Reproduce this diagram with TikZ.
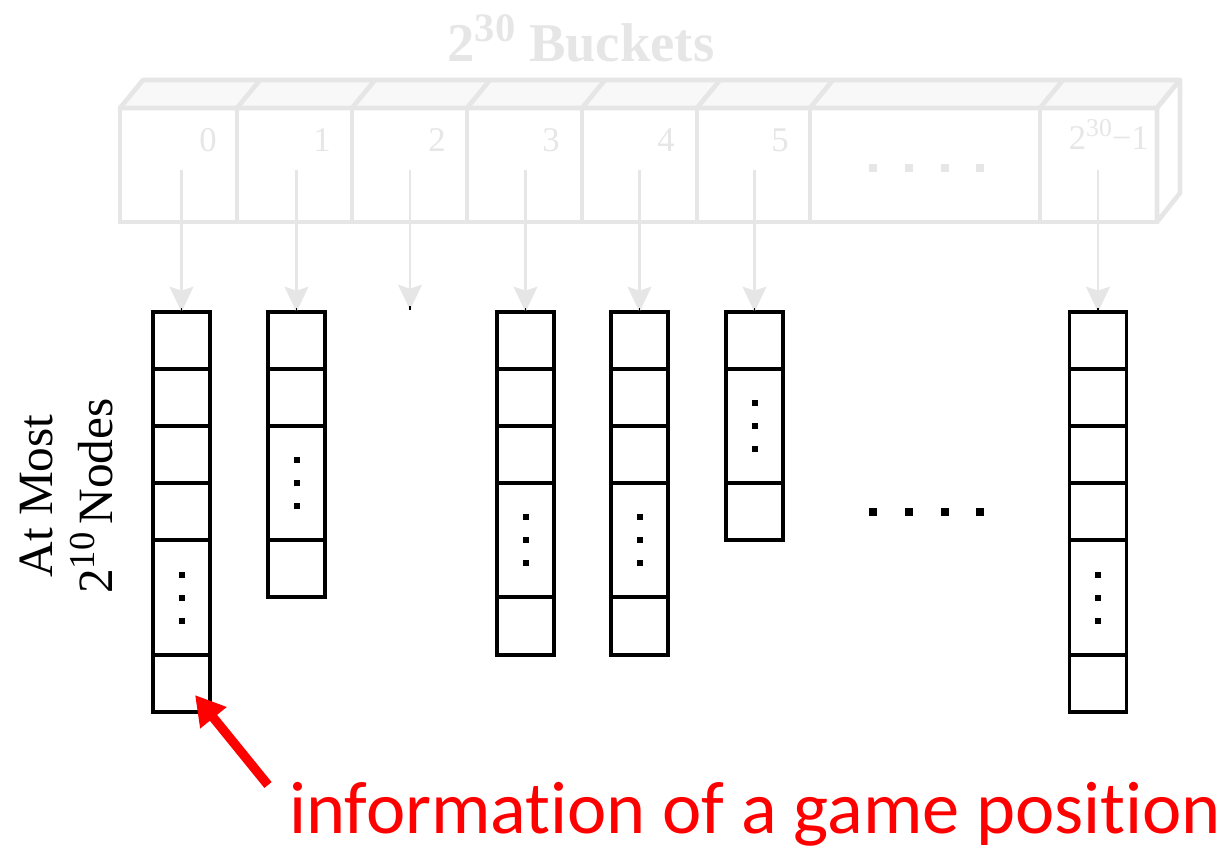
\documentclass[tikz,border=0pt]{standalone}
\usepackage{fontspec}
\setmainfont{Liberation Serif}
\newfontfamily\notefont[Ligatures=NoCommon]{Carlito}
\usetikzlibrary{arrows.meta,calc}
\definecolor{barline}{HTML}{E6E6E6}
\definecolor{bartop}{HTML}{F8F8F8}
\definecolor{notered}{HTML}{FF0000}

% raised, reduced exponent
\newcommand\upnum[1]{\raisebox{0.36em}{\scalebox{0.74}{#1}}}

% a column of node cells: name, centre x, list of top/bottom pairs
\newcommand\nodecolumn[3]{%
  \foreach \t/\b [count=\i] in {#3}
    \node[cellbox, minimum height={(\b-\t)*0.75pt}] (#1-\i) at (#2,{(\t+\b)/2}) {};%
}
% three stacked dots in the middle of a cell
\newcommand\celldots[1]{%
  \foreach \d in {-23,0,23}
    \fill ($(#1.center)+(-3,\d-3)$) rectangle ++(6,6);%
}

\begin{document}
\begin{tikzpicture}[x=0.75pt,y=-0.75pt,
  cellbox/.style={draw=black, line width=2.5pt, minimum width=42.75pt,
    inner sep=0pt, outer sep=0pt},
  bucketbox/.style={draw=barline, line width=3.5pt, minimum height=85.5pt,
    inner sep=0pt, outer sep=0pt},
  bucketnum/.style={text=barline, font=\fontsize{26pt}{30pt}\selectfont,
    inner sep=0pt},
  ptrarrow/.style={draw=barline, line width=1.6pt,
    -{Stealth[width=18pt,length=19pt,inset=3pt]}},
  tipmark/.style={draw=black, line width=1.2pt},
  notearrow/.style={draw=notered, line width=7pt,
    -{Triangle[width=24pt,length=22pt]}}
]
\useasboundingbox (0,0) rectangle (1229,850);

% title
\node[anchor=base, text=barline, inner sep=0pt,
  font=\fontsize{41pt}{48pt}\selectfont\bfseries] (title) at (581,61)
  {2\upnum{30} Buckets};

% top face of the bucket array
\filldraw[fill=bartop, draw=barline, line width=3.5pt, line join=round]
  (120,108) -- (143,80) -- (1180,80) -- (1157,108) -- cycle;
% right face
\filldraw[fill=white, draw=barline, line width=3.5pt, line join=round]
  (1157,108) -- (1180,80) -- (1180,193) -- (1157,222) -- cycle;

% front face: the buckets
\foreach \l/\r/\n in {120/237/b0, 237/352/b1, 352/467/b2, 467/582/b3,
                      582/697/b4, 697/810/b5, 810/1040/bdots, 1040/1157/blast}
  \node[bucketbox, minimum width={(\r-\l)*0.75pt}] (\n) at ({(\l+\r)/2},165) {};

% slanted edges of the top face
\foreach \n in {b1,b2,b3,b4,b5,bdots,blast}
  \draw[barline, line width=3.5pt] (\n.north west) -- ++(23,-28);

% bucket indices
\node[bucketnum] (n0) at (208,140) {0};
\node[bucketnum] (n1) at (322,140) {1};
\node[bucketnum] (n2) at (437,140) {2};
\node[bucketnum] (n3) at (551,140) {3};
\node[bucketnum] (n4) at (666,140) {4};
\node[bucketnum] (n5) at (780,140) {5};
\node[bucketnum, anchor=base east] (nlast) at (1149,149) {2\upnum{30}−1};

% elided buckets
\foreach \x in {873,909,945,980}
  \fill[barline] (\x-4,164) rectangle ++(8,8);

% node lists hanging from the buckets
\nodecolumn{c0}{181.5}{312/369,369/426,426/483,483/540,540/655,655/712}
\nodecolumn{c1}{296.5}{312/369,369/426,426/540,540/597}
\nodecolumn{c3}{525.5}{312/369,369/426,426/483,483/597,597/655}
\nodecolumn{c4}{639.5}{312/369,369/426,426/483,483/597,597/655}
\nodecolumn{c5}{754.5}{312/369,369/483,483/540}
\nodecolumn{cl}{1098}{312/369,369/426,426/483,483/540,540/655,655/712}

\celldots{c0-5}
\celldots{c1-3}
\celldots{c3-4}
\celldots{c4-4}
\celldots{c5-2}
\celldots{cl-5}

% elided columns
\foreach \x in {873,909,945,980}
  \fill (\x-4,508) rectangle ++(8,8);

% pointers from buckets to their lists
\coordinate (s0) at (181.5,170);
\coordinate (s1) at (296.5,170);
\coordinate (s2) at (410,170);
\coordinate (e2) at (410,310);
\coordinate (s3) at (525.5,170);
\coordinate (s4) at (639.5,170);
\coordinate (s5) at (754.5,170);
\coordinate (sl) at (1098,170);

\draw[ptrarrow] (s0) -- (c0-1.north);
\draw[ptrarrow] (s1) -- (c1-1.north);
\draw[ptrarrow] (s2) -- (e2);
\draw[ptrarrow] (s3) -- (c3-1.north);
\draw[ptrarrow] (s4) -- (c4-1.north);
\draw[ptrarrow] (s5) -- (c5-1.north);
\draw[ptrarrow] (sl) -- (cl-1.north);

\foreach \p in {c0-1.north,c1-1.north,e2,c3-1.north,c4-1.north,c5-1.north,cl-1.north}
  \draw[tipmark] (\p) -- ++(0,-4);

% side label
\node[rotate=90, align=center, inner sep=0pt,
  font=\fontsize{37pt}{45pt}\selectfont] (side) at (66,496)
  {At Most\\2\upnum{10}\,Nodes};

% annotation
\node[anchor=base west, inner sep=0pt, text=notered,
  font=\notefont\fontsize{55.8pt}{66pt}\selectfont] (note) at (289,833)
  {information of a game position};
\coordinate (nt) at (268,785);
\draw[notearrow] (nt) -- ($(c0-6.south east)+(-15,-17)$);
\end{tikzpicture}
\end{document}
